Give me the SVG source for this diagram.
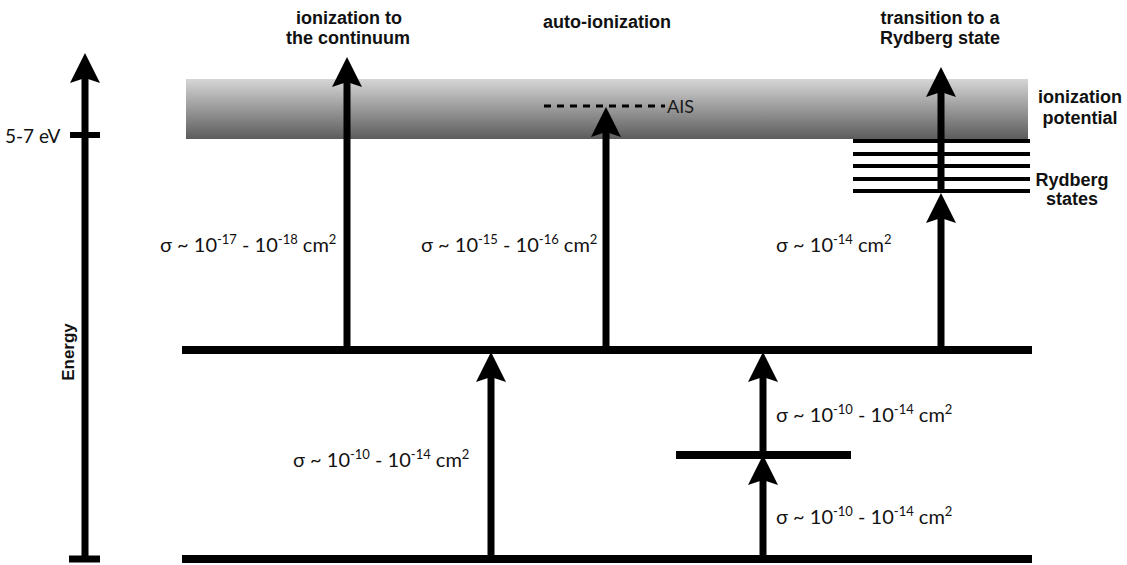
<svg xmlns="http://www.w3.org/2000/svg" width="1127" height="565" viewBox="0 0 1127 565">
  <defs>
    <linearGradient id="band" x1="0" y1="0" x2="0" y2="1">
      <stop offset="0" stop-color="#d6d6d6"/>
      <stop offset="1" stop-color="#5c5c5c"/>
    </linearGradient>
    <marker id="ah" viewBox="0 0 30 30" refX="5" refY="15" markerWidth="30" markerHeight="30" markerUnits="userSpaceOnUse" orient="auto">
      <path d="M30,15 L0,0 L5,15 L0,30 Z" fill="#000"/>
    </marker>
    <style>
      .lvl { stroke:#000; stroke-width:8; fill:none; }
      .ryd { stroke:#000; stroke-width:4; fill:none; }
      .arr { stroke:#000; stroke-width:7; fill:none; marker-end:url(#ah); }
      .title { font-family:"Liberation Sans", Arial, sans-serif; font-weight:bold; font-size:18px; fill:#111; text-anchor:middle; }
      .sig { font-family:Lato, "Open Sans", sans-serif; font-size:20px; fill:#111; }
      .sup { font-size:13px; }
      .lab { font-family:Lato, "Open Sans", sans-serif; font-size:19px; fill:#111; }
    </style>
  </defs>

  <g id="continuum">
    <rect x="186" y="79" width="842" height="60" fill="url(#band)"/>
  </g>

  <g id="energy-axis">
    <line x1="85" y1="562" x2="85" y2="78" class="arr" stroke-width="6"/>
    <line x1="69" y1="559" x2="100" y2="559" stroke="#000" stroke-width="7"/>
    <line x1="70" y1="135" x2="100" y2="135" stroke="#000" stroke-width="6"/>
    <text x="5" y="143" class="lab">5-7 eV</text>
    <text transform="translate(74,352) rotate(-90)" class="title" style="font-size:17px">Energy</text>
  </g>

  <g id="ground-level">
    <line x1="182" y1="559" x2="1032" y2="559" class="lvl"/>
  </g>
  <g id="excited-level">
    <line x1="182" y1="350" x2="1032" y2="350" class="lvl"/>
  </g>
  <g id="intermediate-level">
    <line x1="676" y1="455" x2="851" y2="455" class="lvl"/>
  </g>
  <g id="rydberg-states">
    <line x1="853" y1="141" x2="1030" y2="141" class="ryd"/>
    <line x1="853" y1="154" x2="1030" y2="154" class="ryd"/>
    <line x1="853" y1="166" x2="1030" y2="166" class="ryd"/>
    <line x1="853" y1="179" x2="1030" y2="179" class="ryd"/>
    <line x1="853" y1="191" x2="1030" y2="191" class="ryd"/>
    <text x="1072" y="186" class="title">Rydberg</text>
    <text x="1072" y="205" class="title">states</text>
  </g>
  <g id="ais">
    <line x1="544" y1="106" x2="665" y2="106" stroke="#000" stroke-width="3" stroke-dasharray="7,6"/>
    <text x="667" y="113" class="lab" style="font-size:18px;fill:#1a1a1a">AIS</text>
  </g>
  <g id="ip-label">
    <text x="1080" y="103" class="title">ionization</text>
    <text x="1080" y="124" class="title">potential</text>
  </g>

  <g id="connectors">
    <line x1="347" y1="350" x2="347" y2="82" class="arr"/>
    <line x1="606" y1="350" x2="606" y2="132" class="arr"/>
    <line x1="941" y1="350" x2="941" y2="218" class="arr"/>
    <line x1="941" y1="193" x2="941" y2="92" class="arr"/>
    <line x1="491" y1="559" x2="491" y2="377" class="arr"/>
    <line x1="763" y1="559" x2="763" y2="480" class="arr"/>
    <line x1="763" y1="455" x2="763" y2="377" class="arr"/>
  </g>

  <g id="titles">
    <text x="349" y="24" class="title">ionization to</text>
    <text x="348" y="44" class="title">the continuum</text>
    <text x="607" y="28" class="title">auto-ionization</text>
    <text x="940" y="24" class="title">transition to a</text>
    <text x="940" y="44" class="title">Rydberg state</text>
  </g>

  <g id="cross-sections">
    <text x="160" y="252" class="sig">σ ~ 10<tspan class="sup" dy="-8">-17</tspan><tspan dy="8"> - 10</tspan><tspan class="sup" dy="-8">-18</tspan><tspan dy="8"> cm</tspan><tspan class="sup" dy="-8">2</tspan></text>
    <text x="421" y="252" class="sig">σ ~ 10<tspan class="sup" dy="-8">-15</tspan><tspan dy="8"> - 10</tspan><tspan class="sup" dy="-8">-16</tspan><tspan dy="8"> cm</tspan><tspan class="sup" dy="-8">2</tspan></text>
    <text x="776" y="252" class="sig">σ ~ 10<tspan class="sup" dy="-8">-14</tspan><tspan dy="8"> cm</tspan><tspan class="sup" dy="-8">2</tspan></text>
    <text x="293" y="467" class="sig">σ ~ 10<tspan class="sup" dy="-8">-10</tspan><tspan dy="8"> - 10</tspan><tspan class="sup" dy="-8">-14</tspan><tspan dy="8"> cm</tspan><tspan class="sup" dy="-8">2</tspan></text>
    <text x="776" y="422" class="sig">σ ~ 10<tspan class="sup" dy="-8">-10</tspan><tspan dy="8"> - 10</tspan><tspan class="sup" dy="-8">-14</tspan><tspan dy="8"> cm</tspan><tspan class="sup" dy="-8">2</tspan></text>
    <text x="776" y="524" class="sig">σ ~ 10<tspan class="sup" dy="-8">-10</tspan><tspan dy="8"> - 10</tspan><tspan class="sup" dy="-8">-14</tspan><tspan dy="8"> cm</tspan><tspan class="sup" dy="-8">2</tspan></text>
  </g>
</svg>
